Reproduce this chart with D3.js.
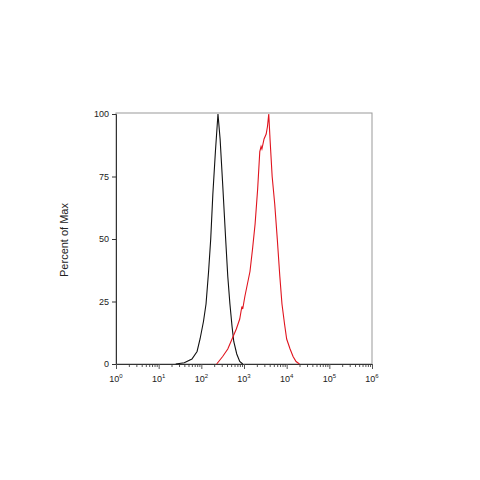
<!DOCTYPE html><html><head><meta charset="utf-8">
<script src="https://cdn.jsdelivr.net/npm/d3@7"></script>
<style>body{margin:0;background:#fff}text{font-family:"Liberation Sans",Arial,sans-serif}</style></head><body>
<svg id="c" width="480" height="480"></svg>
<script>
const blackLog=[1.4,1.6,1.78,1.9,1.97,2.05,2.11,2.17,2.22,2.27,2.33,2.39,2.44,2.5,2.57,2.62,2.67,2.72,2.76,2.83,2.9,2.97];
const blackPct=[0,0.5,2,5,10,17,24,37,50,68,85,100,90,72,50,35,24,15,9,4,1,0];
const redLog=[2.36,2.5,2.62,2.72,2.82,2.9,2.93,2.95,2.97,3.02,3.08,3.14,3.2,3.26,3.32,3.37,3.4,3.42,3.47,3.52,3.55,3.58,3.61,3.66,3.72,3.78,3.84,3.89,3.95,4.0,4.08,4.15,4.22,4.3];
const redPct=[0,3,6,10,14,18,21,23,22,27,32,37,46,56,70,85,87,86,90,92,95,100,90,75,64,50,35,24,16,10,6,3,1,0];
const yTicks=[0,25,50,75,100];
const xExps=[0,1,2,3,4,5,6];
const svg=d3.select("#c");
const L=116,R=372,T=113,B=364;
const x=d3.scaleLog().domain([1,1e6]).range([L,R]);
const y=d3.scaleLinear().domain([0,100]).range([B,T+1]);
svg.append("rect").attr("x",L).attr("y",T).attr("width",R-L).attr("height",B-T).attr("fill","none").attr("stroke","#999").attr("stroke-width",1);
const ya=svg.append("g").attr("transform",`translate(${L},0)`).call(d3.axisLeft(y).tickValues(yTicks).tickSize(4).tickPadding(3));
ya.select(".domain").attr("stroke","#333");ya.selectAll("line").attr("stroke","#333");ya.selectAll("text").attr("font-size",9).attr("fill","#222");
const minor=[];xExps.slice(0,-1).forEach(e=>{for(let k=2;k<10;k++)minor.push(k*10**e)});
const xa=svg.append("g").attr("transform",`translate(0,${B})`);
xa.call(d3.axisBottom(x).tickValues(minor).tickSize(3).tickFormat(""));
xa.append("g").call(d3.axisBottom(x).tickValues(xExps.map(e=>10**e)).tickSize(5).tickFormat(""));
xa.selectAll(".domain").attr("stroke","#333");xa.selectAll("line").attr("stroke","#555");
xExps.forEach(e=>{const t=svg.append("text").attr("x",x(10**e)).attr("y",B+18).attr("text-anchor","middle").attr("font-size",9).attr("fill","#222");
 t.append("tspan").text("10");t.append("tspan").attr("dy",-4).attr("font-size",6).text(e);});
svg.append("text").attr("transform",`translate(68,240) rotate(-90)`).attr("text-anchor","middle").attr("font-size",11).attr("fill","#222").text("Percent of Max");
const line=d3.line().x(d=>x(10**d[0])).y(d=>y(d[1]));
svg.append("path").datum(blackLog.map((v,i)=>[v,blackPct[i]])).attr("d",line).attr("fill","none").attr("stroke","#111").attr("stroke-width",1.1);
svg.append("path").datum(redLog.map((v,i)=>[v,redPct[i]])).attr("d",line).attr("fill","none").attr("stroke","#e0141e").attr("stroke-width",1.1);
</script></body></html>
